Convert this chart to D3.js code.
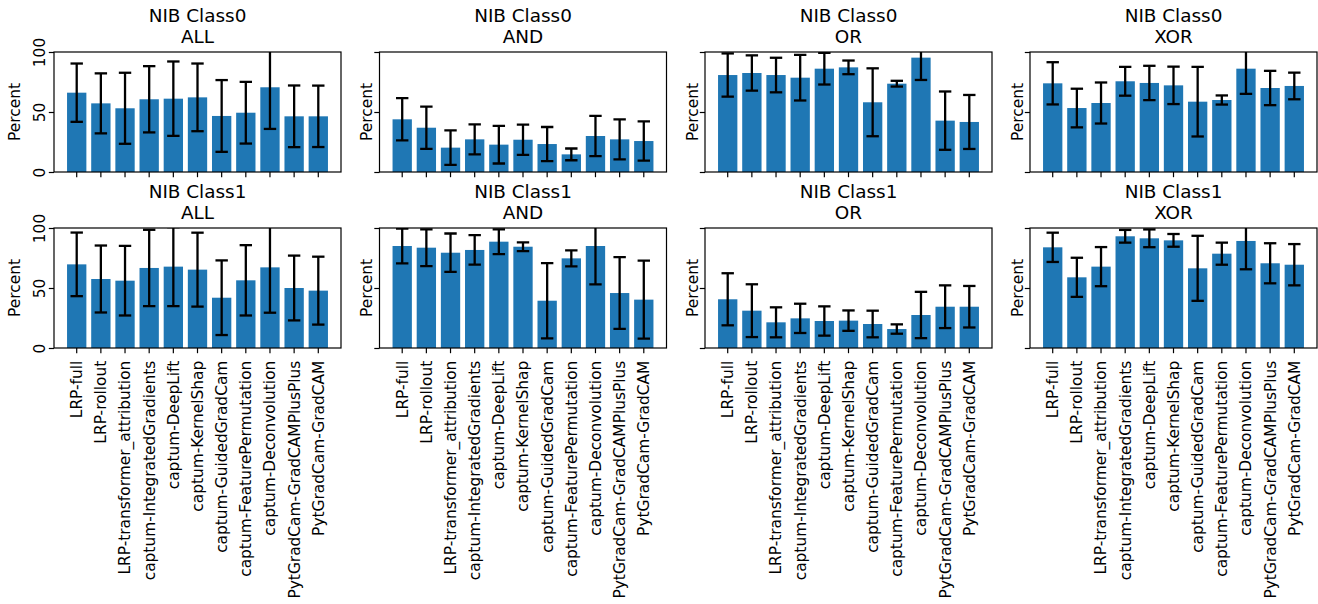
<!DOCTYPE html>
<html>
<head>
<meta charset="utf-8">
<script src="https://cdn.jsdelivr.net/npm/d3@7"></script>
<style>
  html, body { margin: 0; padding: 0; background: #fff; }
  text { font-family: "DejaVu Sans", sans-serif; fill: #000; }
</style>
</head>
<body>
<svg id="chart" width="1318" height="604"></svg>
<script>
const methods = ["LRP-full", "LRP-rollout", "LRP-transformer_attribution", "captum-IntegratedGradients",
  "captum-DeepLift", "captum-KernelShap", "captum-GuidedGradCam", "captum-FeaturePermutation",
  "captum-Deconvolution", "PytGradCam-GradCAMPlusPlus", "PytGradCam-GradCAM"];
const yTicks = [0, 50, 100];

const c0AllMean = [66.1, 57.2, 53.1, 60.6, 61.1, 62.2, 46.7, 49.4, 70.6, 46.4, 46.4];
const c0AllErr  = [24.3, 25.0, 29.6, 27.6, 31.0, 28.2, 29.9, 25.7, 34.7, 25.7, 25.6];
const c0AndMean = [43.9, 36.9, 20.3, 27.2, 22.8, 26.9, 23.3, 14.7, 30.0, 27.2, 25.8];
const c0AndErr  = [17.6, 17.6, 14.4, 12.5, 15.7, 12.6, 14.2, 4.9, 16.8, 16.7, 16.4];
const c0OrMean  = [80.8, 82.5, 80.8, 78.6, 86.1, 87.2, 58.1, 73.6, 95.3, 42.8, 41.7];
const c0OrErr   = [18.0, 14.7, 14.4, 19.0, 13.2, 5.7, 28.3, 2.4, 18.6, 24.3, 22.5];
const c0XorMean = [73.9, 53.3, 57.5, 75.6, 74.2, 72.2, 58.6, 60.0, 86.1, 70.0, 71.7];
const c0XorErr  = [17.6, 16.1, 17.1, 12.0, 14.3, 15.6, 29.0, 3.8, 21.0, 14.3, 11.1];
const c1AllMean = [69.7, 57.5, 56.1, 66.7, 67.8, 65.3, 41.9, 56.4, 67.2, 50.0, 47.8];
const c1AllErr  = [26.5, 27.9, 29.0, 31.8, 32.9, 30.8, 31.1, 29.3, 37.8, 27.0, 28.3];
const c1AndMean = [85.0, 83.6, 79.4, 81.7, 88.6, 84.4, 39.4, 74.7, 85.0, 45.8, 40.3];
const c1AndErr  = [14.4, 15.3, 16.0, 12.3, 10.3, 3.6, 31.3, 6.7, 31.9, 29.9, 32.5];
const c1OrMean  = [40.6, 31.1, 21.4, 24.7, 22.5, 22.8, 20.0, 15.8, 27.5, 34.4, 34.4];
const c1OrErr   = [21.7, 22.0, 12.5, 12.2, 12.2, 8.5, 11.1, 3.9, 19.3, 17.8, 17.3];
const c1XorMean = [83.9, 58.9, 67.8, 93.1, 91.4, 89.7, 66.4, 78.6, 89.2, 70.6, 69.4];
const c1XorErr  = [12.2, 16.3, 16.3, 5.3, 7.4, 5.3, 27.1, 9.2, 23.6, 16.7, 17.2];

const panels = [
  {row: 0, col: 0, t1: "NIB Class0", t2: "ALL", mean: c0AllMean, err: c0AllErr},
  {row: 0, col: 1, t1: "NIB Class0", t2: "AND", mean: c0AndMean, err: c0AndErr},
  {row: 0, col: 2, t1: "NIB Class0", t2: "OR",  mean: c0OrMean,  err: c0OrErr},
  {row: 0, col: 3, t1: "NIB Class0", t2: "XOR", mean: c0XorMean, err: c0XorErr},
  {row: 1, col: 0, t1: "NIB Class1", t2: "ALL", mean: c1AllMean, err: c1AllErr},
  {row: 1, col: 1, t1: "NIB Class1", t2: "AND", mean: c1AndMean, err: c1AndErr},
  {row: 1, col: 2, t1: "NIB Class1", t2: "OR",  mean: c1OrMean,  err: c1OrErr},
  {row: 1, col: 3, t1: "NIB Class1", t2: "XOR", mean: c1XorMean, err: c1XorErr}
];

const colLeft = [54, 379.5, 705, 1030];
const panelW = 287;
const rowTop = [52, 228];
const panelH = 120;
const barColor = "#1f77b4";
const tickLen = 5.2;
const tickFont = 15.4;
const titleFont = 18.4;

const svg = d3.select("#chart");
const defs = svg.append("defs");

panels.forEach((p, i) => {
  const x0 = colLeft[p.col], y0 = rowTop[p.row];
  const g = svg.append("g").attr("transform", `translate(${x0},${y0})`);
  const x = d3.scaleBand().domain(methods).range([0, panelW]).paddingInner(0.2).paddingOuter(0.54);
  const y = d3.scaleLinear().domain([0, 100]).range([panelH, 0]);

  defs.append("clipPath").attr("id", "clip" + i)
    .append("rect").attr("x", 0).attr("y", 0).attr("width", panelW).attr("height", panelH);

  const data = methods.map((m, k) => ({m, v: p.mean[k], e: p.err[k]}));
  const plot = g.append("g").attr("clip-path", `url(#clip${i})`);

  plot.selectAll("rect.bar").data(data).join("rect")
    .attr("class", "bar")
    .attr("x", d => x(d.m))
    .attr("width", x.bandwidth())
    .attr("y", d => y(d.v))
    .attr("height", d => y(0) - y(d.v))
    .attr("fill", barColor);

  const capW = 6.2;
  const lw = 2.3;
  const eb = plot.selectAll("g.eb").data(data).join("g").attr("class", "eb")
    .attr("transform", d => `translate(${x(d.m) + x.bandwidth() / 2},0)`);
  eb.append("line").attr("x1", 0).attr("x2", 0)
    .attr("y1", d => y(d.v - d.e)).attr("y2", d => y(d.v + d.e))
    .attr("stroke", "#000").attr("stroke-width", lw);
  eb.append("line").attr("x1", -capW).attr("x2", capW)
    .attr("y1", d => y(d.v + d.e)).attr("y2", d => y(d.v + d.e))
    .attr("stroke", "#000").attr("stroke-width", lw);
  eb.append("line").attr("x1", -capW).attr("x2", capW)
    .attr("y1", d => y(d.v - d.e)).attr("y2", d => y(d.v - d.e))
    .attr("stroke", "#000").attr("stroke-width", lw);

  // y axis
  const yAxis = d3.axisLeft(y).tickValues(yTicks).tickSize(tickLen).tickPadding(4);
  const ya = g.append("g").call(yAxis);
  ya.select(".domain").remove();
  ya.selectAll("line").attr("stroke", "#000").attr("stroke-width", 1.2);
  if (p.col === 0) {
    ya.selectAll("text")
      .attr("font-size", tickFont)
      .attr("x", 0)
      .attr("y", 0)
      .attr("dy", 0)
      .attr("text-anchor", "middle")
      .attr("transform", "translate(-9.5,0) rotate(-90)");
  } else {
    ya.selectAll("text").remove();
  }

  // x axis
  const xAxis = d3.axisBottom(x).tickSize(tickLen);
  const xa = g.append("g").attr("transform", `translate(0,${panelH})`).call(xAxis);
  xa.select(".domain").remove();
  xa.selectAll("line").attr("stroke", "#000").attr("stroke-width", 1.2);
  if (p.row === 1) {
    xa.selectAll("text")
      .attr("font-size", tickFont)
      .attr("text-anchor", "end")
      .attr("transform", "rotate(-90)")
      .attr("x", -(tickLen + 7.5))
      .attr("y", 0)
      .attr("dy", "0.35em");
  } else {
    xa.selectAll("text").remove();
  }

  // frame
  g.append("rect").attr("x", 0).attr("y", 0).attr("width", panelW).attr("height", panelH)
    .attr("fill", "none").attr("stroke", "#000").attr("stroke-width", 1.2);

  // y label
  const ylx = p.col === 0 ? -39 : -12.5;
  g.append("text")
    .attr("transform", `translate(${ylx},${panelH / 2}) rotate(-90)`)
    .attr("text-anchor", "middle")
    .attr("dy", "0.35em")
    .attr("font-size", tickFont)
    .text("Percent");

  // titles
  g.append("text").attr("x", panelW / 2).attr("y", -30).attr("text-anchor", "middle")
    .attr("font-size", titleFont).text(p.t1);
  g.append("text").attr("x", panelW / 2).attr("y", -8.7).attr("text-anchor", "middle")
    .attr("font-size", titleFont).text(p.t2);
});
</script>
</body>
</html>
